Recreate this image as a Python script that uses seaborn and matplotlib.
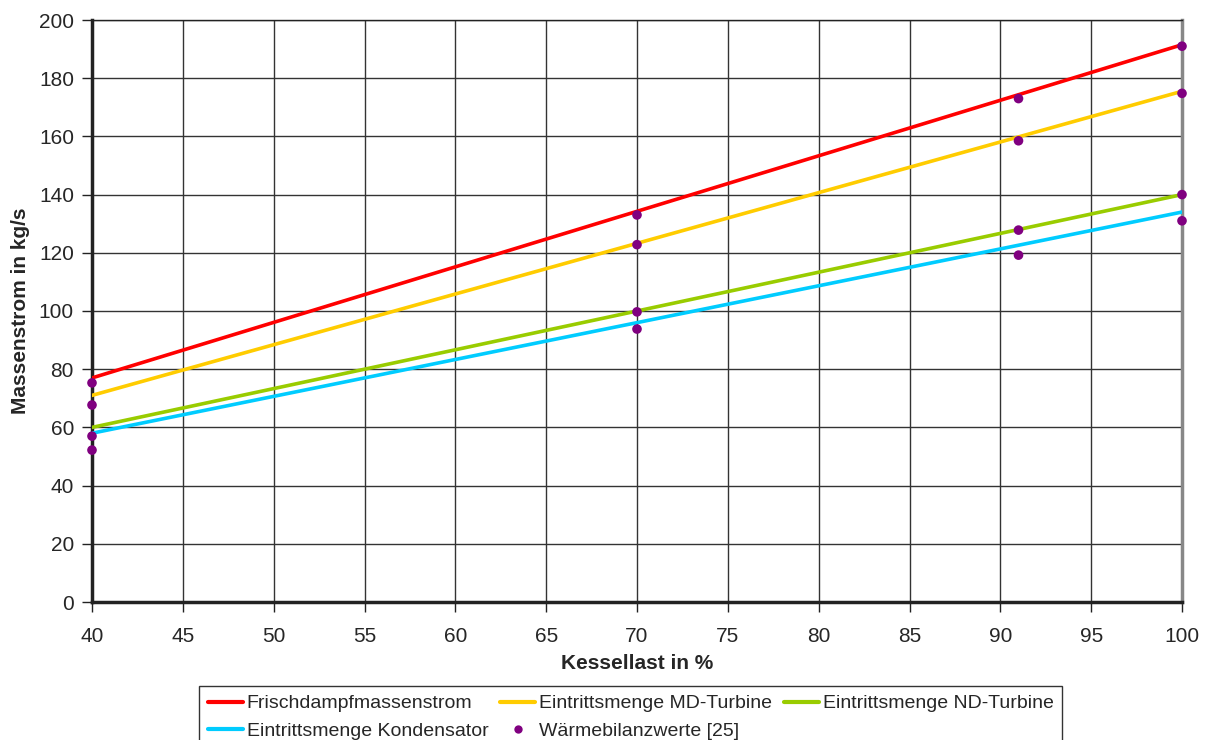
import matplotlib
matplotlib.use("Agg")
import matplotlib.pyplot as plt
from matplotlib.lines import Line2D
import seaborn as sns
import pandas as pd

# Kessellast (%) and fitted mass flows at the end points
last = [40, 100]
frischdampf = [77, 191.5]
md_turbine = [71, 175.5]
nd_turbine = [60, 140]
kondensator = [58, 134]

series_names = [
    "Frischdampfmassenstrom",
    "Eintrittsmenge MD-Turbine",
    "Eintrittsmenge ND-Turbine",
    "Eintrittsmenge Kondensator",
]
series_values = [frischdampf, md_turbine, nd_turbine, kondensator]
series_colors = ["#ff0000", "#ffcc00", "#99cc00", "#00ccff"]

# Heat balance values
wb_label = "Wärmebilanzwerte [25]"
wb_last = [40, 40, 40, 40, 70, 70, 70, 70, 91, 91, 91, 91, 100, 100, 100, 100]
wb_strom = [75.3, 67.7, 57, 52.2, 133, 122.8, 99.7, 93.8,
            173, 158.5, 127.8, 119.2, 191, 174.8, 140, 131]

x_ticks = list(range(40, 101, 5))
y_ticks = list(range(0, 201, 20))

sns.set_theme(style="white")
plt.rcParams["font.family"] = ["Liberation Sans", "DejaVu Sans"]

fig = plt.figure(figsize=(12.08, 7.40), dpi=100)
ax = fig.add_axes([92 / 1208, 1 - 602 / 740, (1182 - 92) / 1208, (602 - 20) / 740])

rows = []
for name, vals in zip(series_names, series_values):
    for x, y in zip(last, vals):
        rows.append({"Kessellast": x, "Massenstrom": y, "Reihe": name})
df_lines = pd.DataFrame(rows)

sns.lineplot(data=df_lines, x="Kessellast", y="Massenstrom", hue="Reihe",
             hue_order=series_names, palette=series_colors, linewidth=2.6,
             ax=ax, legend=False, zorder=3)

df_pts = pd.DataFrame({"Kessellast": wb_last, "Massenstrom": wb_strom})
sns.scatterplot(data=df_pts, x="Kessellast", y="Massenstrom", color="#800080",
                s=48, edgecolor="none", ax=ax, zorder=4, clip_on=False)

ax.set_xlim(40, 100)
ax.set_ylim(0, 200)
ax.set_xticks(x_ticks)
ax.set_yticks(y_ticks)
ax.grid(True, color="#333333", linewidth=1.0)
ax.set_axisbelow(True)
ax.tick_params(axis="both", which="major", labelsize=15, length=7, width=1,
               color="#222222", direction="out", left=True, bottom=True)
ax.tick_params(axis="x", pad=11)
ax.tick_params(axis="y", pad=6)
for side, sp in ax.spines.items():
    sp.set_color("#888888" if side == "right" else "#222222")
    sp.set_linewidth(1.0 if side == "top" else 2.5)

ax.set_xlabel("Kessellast in %", fontsize=15, fontweight="bold", labelpad=6)
ax.set_ylabel("Massenstrom in kg/s", fontsize=15, fontweight="bold", labelpad=6)

# Legend entries in row order, rearranged for matplotlib's column filling
line_handles = [Line2D([0], [0], color=c, lw=3) for c in series_colors]
dot_handle = Line2D([0], [0], marker="o", color="none", markerfacecolor="#800080",
                    markeredgecolor="none", markersize=6)
handles = [line_handles[0], line_handles[3], line_handles[1], dot_handle, line_handles[2]]
labels = [series_names[0], series_names[3], series_names[1], wb_label, series_names[2]]

leg = fig.legend(handles, labels, loc="upper center", bbox_to_anchor=(0.522, 1 - 686 / 740),
                 ncol=3, fontsize=14, frameon=True, fancybox=False, edgecolor="black",
                 handlelength=1.8, handletextpad=0.2, columnspacing=0.6,
                 borderpad=0.45, labelspacing=0.5, borderaxespad=0)
leg.get_frame().set_linewidth(1.0)

fig.savefig("out.png", dpi=100)
